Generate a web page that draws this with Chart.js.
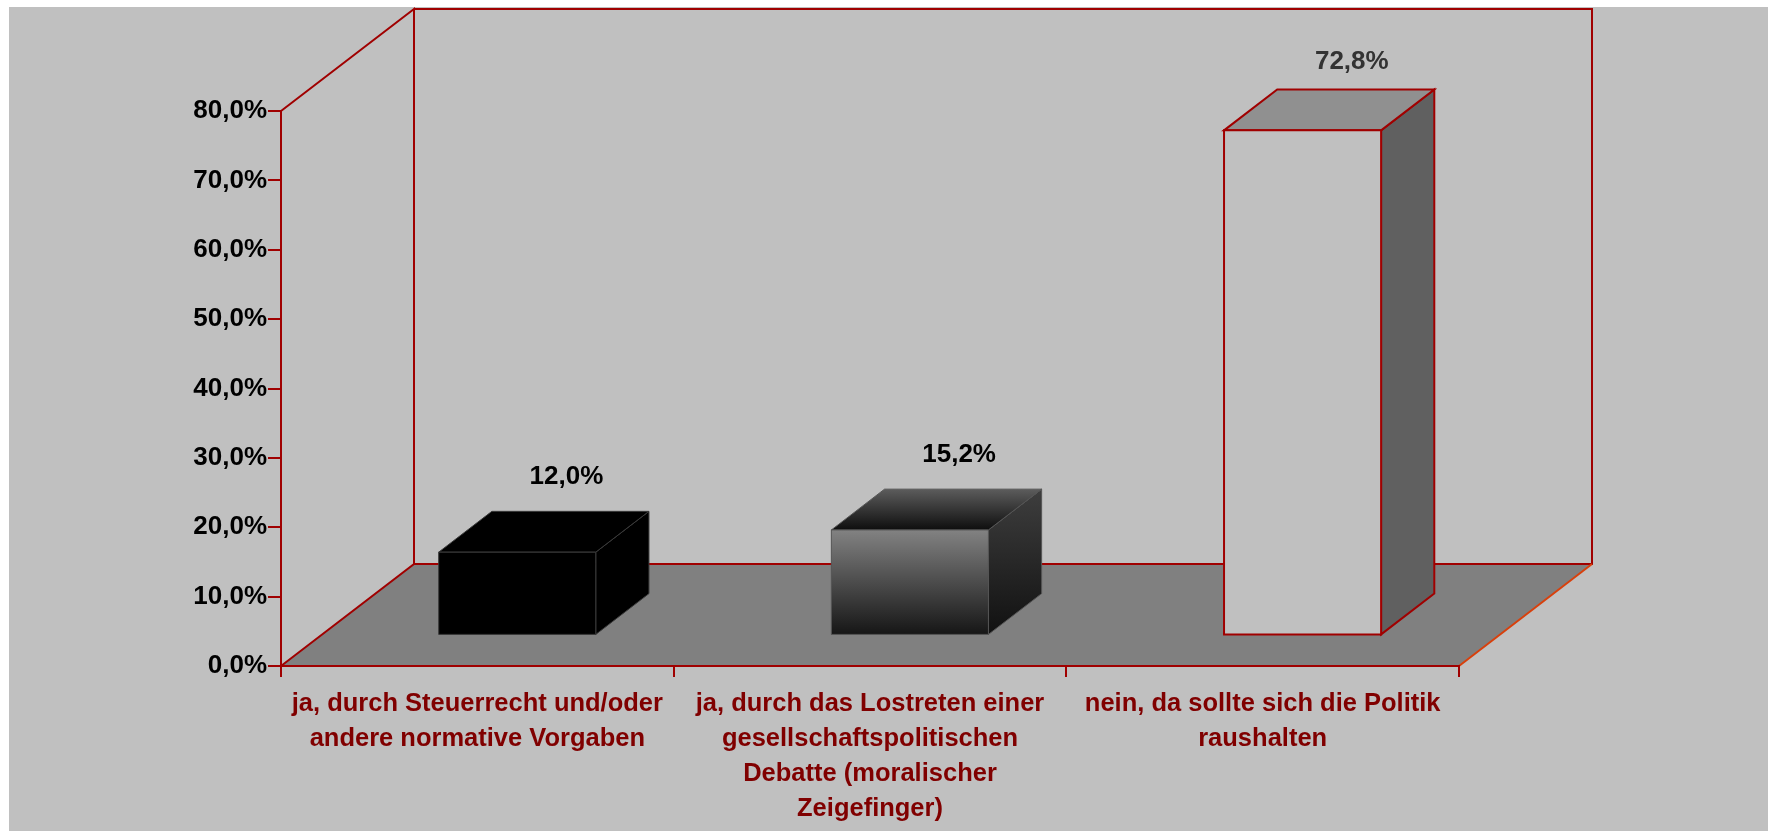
<!DOCTYPE html>
<html><head><meta charset="utf-8">
<style>html,body{margin:0;padding:0;background:#fff;overflow:hidden}</style>
<script src="https://cdn.jsdelivr.net/npm/chart.js@4.4.1/dist/chart.umd.min.js"></script>
</head><body>
<canvas id="c" width="1770" height="831" style="display:block;width:1770px;height:831px"></canvas>
<script>
// ---- data ----
const categories = [
  ["ja, durch Steuerrecht und/oder", "andere normative Vorgaben"],
  ["ja, durch das Lostreten einer", "gesellschaftspolitischen", "Debatte (moralischer", "Zeigefinger)"],
  ["nein, da sollte sich die Politik", "raushalten"]
];
const values = [12.0, 15.2, 72.8];
const valueLabels = ["12,0%", "15,2%", "72,8%"];
const yMin = 0, yMax = 80, yStep = 10;

// ---- style ----
const FONT = "'Liberation Sans', Arial, sans-serif";
const RED = '#a00000';
const DX = 133, DY = 102;          // 3D depth offset
const D0 = 0.3, D1 = 0.7;          // bar depth range (fraction of depth)

function fmt(v){ return v.toFixed(1).replace('.', ',') + '%'; }

const scene3d = {
  id: 'scene3d',
  beforeDraw(chart) {
    const ctx = chart.ctx;
    const x = chart.scales.x, y = chart.scales.y;
    ctx.save();
    ctx.fillStyle = '#ffffff';
    ctx.fillRect(0, 0, chart.width, chart.height);
    ctx.fillStyle = '#c0c0c0';
    ctx.fillRect(9, 7, chart.width - 11, chart.height - 7);
    const L = x.left, R = x.right, B = y.getPixelForValue(yMin), T = y.getPixelForValue(yMax);
    // floor
    ctx.beginPath();
    ctx.moveTo(L, B); ctx.lineTo(L + DX, B - DY); ctx.lineTo(R + DX, B - DY); ctx.lineTo(R, B); ctx.closePath();
    ctx.fillStyle = '#808080'; ctx.fill();
    ctx.lineWidth = 2; ctx.strokeStyle = RED; ctx.lineJoin = 'miter';
    // left wall
    ctx.beginPath();
    ctx.moveTo(L, B); ctx.lineTo(L + DX, B - DY); ctx.lineTo(L + DX, T - DY); ctx.lineTo(L, T);
    ctx.stroke();
    // back wall
    ctx.beginPath();
    ctx.moveTo(L + DX, B - DY); ctx.lineTo(R + DX, B - DY); ctx.lineTo(R + DX, T - DY); ctx.lineTo(L + DX, T - DY);
    ctx.stroke();
    // floor front right edge
    ctx.beginPath();
    ctx.moveTo(R, B); ctx.lineTo(R + DX, B - DY);
    ctx.strokeStyle = '#d8400c'; ctx.stroke();
    ctx.restore();
  },
  afterDatasetsDraw(chart) {
    const ctx = chart.ctx;
    const meta = chart.getDatasetMeta(0);
    const fx = D0 * DX, fy = D0 * DY, bx = (D1 - D0) * DX, by = (D1 - D0) * DY;
    meta.data.forEach((el, i) => {
      const p = el.getProps(['x', 'y', 'base', 'width'], true);
      const x0 = p.x - p.width / 2 + fx, x1 = p.x + p.width / 2 + fx;
      const yt = p.y - fy, yb = p.base - fy;
      const front = [[x0, yt], [x1, yt], [x1, yb], [x0, yb]];
      const top = [[x0, yt], [x1, yt], [x1 + bx, yt - by], [x0 + bx, yt - by]];
      const side = [[x1, yt], [x1 + bx, yt - by], [x1 + bx, yb - by], [x1, yb]];
      let fFront, fTop, fSide, edge, ew;
      if (i === 0) {
        fFront = fTop = fSide = '#000000'; edge = '#3a3a3a'; ew = 1;
      } else if (i === 1) {
        fFront = ctx.createLinearGradient(0, yt, 0, yb);
        fFront.addColorStop(0, '#828282'); fFront.addColorStop(1, '#161616');
        fTop = ctx.createLinearGradient(0, yt - by, 0, yt);
        fTop.addColorStop(0, '#5c5c5c'); fTop.addColorStop(1, '#0e0e0e');
        fSide = ctx.createLinearGradient(0, yt - by, 0, yb);
        fSide.addColorStop(0, '#3e3e3e'); fSide.addColorStop(1, '#111111');
        edge = '#555555'; ew = 1;
      } else {
        fFront = '#c0c0c0'; fTop = '#909090'; fSide = '#606060'; edge = RED; ew = 2;
      }
      const poly = (pts, fill) => {
        ctx.beginPath();
        ctx.moveTo(pts[0][0], pts[0][1]);
        for (let k = 1; k < pts.length; k++) ctx.lineTo(pts[k][0], pts[k][1]);
        ctx.closePath();
        ctx.fillStyle = fill; ctx.fill();
        ctx.lineWidth = ew; ctx.strokeStyle = edge; ctx.stroke();
      };
      ctx.save();
      ctx.lineJoin = 'miter';
      poly(side, fSide); poly(top, fTop); poly(front, fFront);
      // value label (offset shrinks slightly for tall bars, like the source's 3D projection)
      const off = 36 - 0.12 * values[i];
      ctx.font = 'bold 26px ' + FONT;
      ctx.fillStyle = i === 2 ? '#333333' : '#000000';
      ctx.textAlign = 'center'; ctx.textBaseline = 'middle';
      ctx.fillText(valueLabels[i], p.x + 0.67 * DX, p.y - D1 * DY - off);
      ctx.restore();
    });
  }
};

new Chart(document.getElementById('c'), {
  type: 'bar',
  data: {
    labels: categories,
    datasets: [{
      data: values,
      backgroundColor: 'rgba(0,0,0,0)',
      borderWidth: 0,
      barPercentage: 0.4,
      categoryPercentage: 1.0
    }]
  },
  options: {
    responsive: false,
    animation: false,
    devicePixelRatio: 1,
    layout: { padding: { left: 0, right: 311, top: 111, bottom: 0 } },
    plugins: { legend: { display: false }, tooltip: { enabled: false } },
    scales: {
      x: {
        grid: { offset: true, drawOnChartArea: false, drawTicks: true, tickLength: 11, color: RED, lineWidth: 2 },
        border: { display: true, color: RED, width: 2 },
        ticks: {
          color: '#800000', padding: 9, maxRotation: 0, autoSkip: false,
          font: { family: FONT, size: 25.5, weight: 'bold', lineHeight: 1.38 }
        },
        afterFit(s) { s.height = 165; }
      },
      y: {
        min: yMin, max: yMax,
        grid: { drawOnChartArea: false, drawTicks: true, tickLength: 13, color: RED, lineWidth: 2 },
        border: { display: true, color: RED, width: 2 },
        ticks: {
          stepSize: yStep, color: '#000000', padding: 1,
          font: { family: FONT, size: 26, weight: 'bold' },
          callback: v => fmt(v)
        },
        afterFit(s) { s.width = 281; }
      }
    }
  },
  plugins: [scene3d]
});
</script>
</body></html>
